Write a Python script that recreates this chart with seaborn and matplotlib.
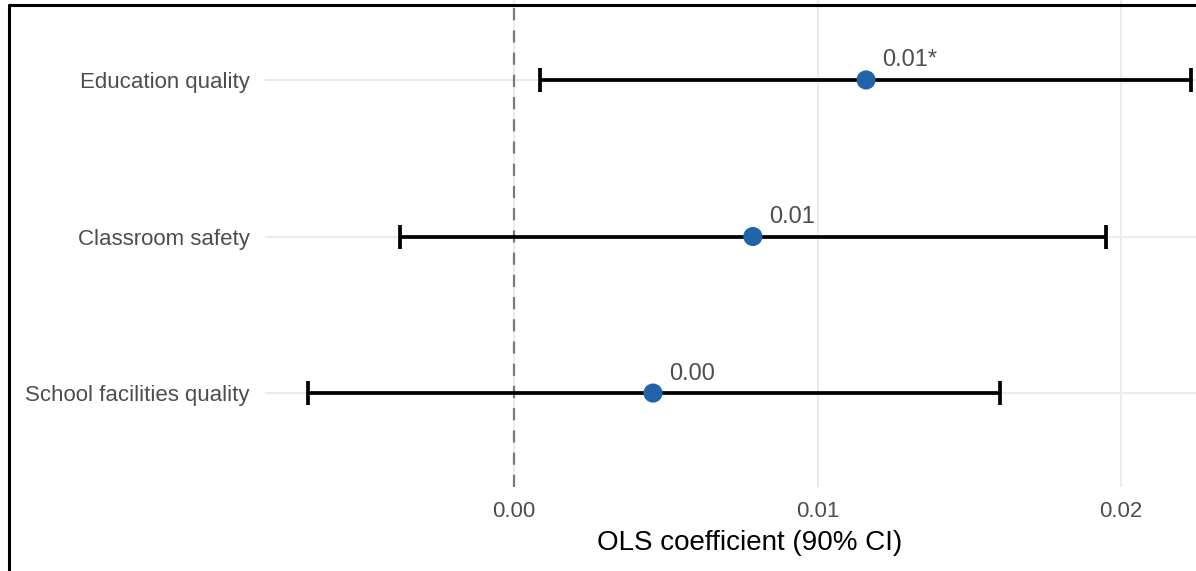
import numpy as np
import matplotlib
matplotlib.use("Agg")
import matplotlib.pyplot as plt
from matplotlib.lines import Line2D
import seaborn as sns

# OLS estimates with 90% confidence intervals
terms = ["Education quality", "Classroom safety", "School facilities quality"]
estimates = [0.0116, 0.00787, 0.00458]
ci_low = [0.00086, -0.00376, -0.00679]
ci_high = [0.0223, 0.0195, 0.0160]
significant = [True, False, False]
x_ticks = [0.00, 0.01, 0.02]
x_tick_labels = ["0.00", "0.01", "0.02"]

sns.set_theme(style="white")
plt.rcParams["font.family"] = ["Liberation Sans", "DejaVu Sans"]

fig = plt.figure(figsize=(11.96, 5.71), dpi=100)
W, H = 1196, 571
left_px, right_px, top_px, bottom_px = 265, 1235, -14, 487
ax = fig.add_axes([left_px / W, 1 - bottom_px / H,
                   (right_px - left_px) / W, (bottom_px - top_px) / H])

ypos = np.arange(len(terms))
est = np.array(estimates)
lo = np.array(ci_low)
hi = np.array(ci_high)

# grid
for y in ypos:
    ax.axhline(y, color="#EBEBEB", lw=1.5, zorder=0)
for x in x_ticks:
    ax.axvline(x, color="#EBEBEB", lw=1.5, zorder=0)

# reference line at zero
ax.axvline(0, color="#7A7A7A", lw=1.6, linestyle=(0, (5.5, 4.5)), zorder=1)

# confidence intervals
ax.errorbar(est, ypos, xerr=[est - lo, hi - est], fmt="none",
            ecolor="black", elinewidth=2.7, capsize=8.3, capthick=2.7, zorder=2)

# point estimates
sns.scatterplot(x=est, y=ypos, ax=ax, color="#2163A8", s=190,
                edgecolor="none", zorder=3, legend=False)

# value labels
for x, y, sig in zip(est, ypos, significant):
    label = f"{x:.2f}" + ("*" if sig else "")
    ax.annotate(label, (x, y), xytext=(11.5, 14), textcoords="offset points",
                ha="left", va="center", fontsize=17, color="#4D4D4D")

ax.set_xlim((left_px - 514) / 30350, (right_px - 514) / 30350)
ax.set_ylim(2.6, -0.6)
ax.set_yticks(ypos)
ax.set_yticklabels(terms)
ax.set_xticks(x_ticks)
ax.set_xticklabels(x_tick_labels)
ax.tick_params(axis="both", length=0, labelsize=16, labelcolor="#4D4D4D")
ax.tick_params(axis="y", pad=11)
ax.tick_params(axis="x", pad=10)
ax.set_xlabel("OLS coefficient (90% CI)", fontsize=20, color="black", labelpad=6)
ax.set_ylabel("")
for s in ax.spines.values():
    s.set_visible(False)

# outer frame
fig.add_artist(Line2D([9 / W, 9 / W], [0, 1 - 5 / H], transform=fig.transFigure,
                      color="black", lw=2.2))
fig.add_artist(Line2D([9 / W, 1], [1 - 5 / H, 1 - 5 / H], transform=fig.transFigure,
                      color="black", lw=2.2))

fig.savefig("out.png", dpi=100)
